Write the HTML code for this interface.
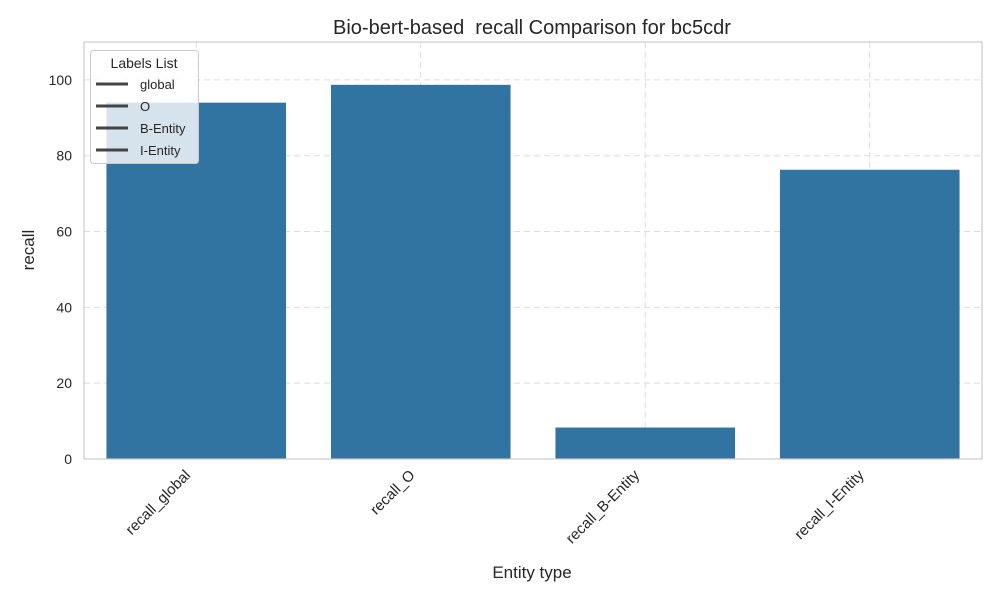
<!DOCTYPE html>
<html><head><meta charset="utf-8"><style>
body{margin:0;background:#fff;font-family:"Liberation Sans",sans-serif;}
</style></head><body>
<svg id="chart" width="1000" height="600" xmlns="http://www.w3.org/2000/svg" font-family="Liberation Sans, sans-serif">
<text x="532" y="34" font-size="20" text-anchor="middle" fill="#262626">Bio-bert-based&#160; recall Comparison for bc5cdr</text>
<g id="grid"></g>
<g id="bars"></g>
<rect x="84" y="42" width="898" height="417" fill="none" stroke="#cccccc" stroke-width="1.2"/>
<g id="ticks"></g>
<text x="34" y="250" font-size="17" text-anchor="middle" fill="#262626" transform="rotate(-90 34 250)">recall</text>
<text x="532" y="578" font-size="17" text-anchor="middle" fill="#262626">Entity type</text>
<g>
<rect x="90.5" y="50.5" width="108" height="113" rx="3" fill="#ffffff" fill-opacity="0.8" stroke="#cccccc"/>
<text x="144" y="68" font-size="14" text-anchor="middle" fill="#262626">Labels List</text>
<g id="legend-items"></g>
</g>
</svg>
<script>
const categories=["recall_global","recall_O","recall_B-Entity","recall_I-Entity"];
const values=[94.0,98.7,8.3,76.3];
const yTicks=[0,20,40,60,80,100];
const legendLabels=["global","O","B-Entity","I-Entity"];
const NS="http://www.w3.org/2000/svg";
const L=84,R=982,T=42,B=459,YMAX=110;
const y=v=>B-(v/YMAX)*(B-T);
const band=(R-L)/categories.length;
const x=i=>L+band*(i+0.5);
function mk(tag,attrs,parent,txt){const e=document.createElementNS(NS,tag);for(const k in attrs)e.setAttribute(k,attrs[k]);if(txt!==undefined)e.textContent=txt;document.getElementById(parent).appendChild(e);return e;}
yTicks.forEach(t=>{
 const g=mk('line',{x1:L,x2:R,y1:y(t),y2:y(t),stroke:'#dddddd','stroke-dasharray':'6,4'},'grid');
 
 
 const l=mk('text',{x:L-12,y:y(t)+5,'font-size':14,'text-anchor':'end',fill:'#262626'},'ticks',t);
 
 
});
categories.forEach((c,i)=>{
 const g=mk('line',{x1:x(i),x2:x(i),y1:T,y2:B,stroke:'#dddddd','stroke-dasharray':'6,4'},'grid');
 
 
 const w=band*0.8;
 const b=mk('rect',{x:x(i)-w/2,y:y(values[i]),width:w,height:B-y(values[i]),fill:'#3274a1'},'bars');
 
 
 const tx=x(i)-5,ty=B+17;
 const l=mk('text',{x:tx,y:ty,'font-size':15,'text-anchor':'end',fill:'#262626',transform:`rotate(-45 ${tx} ${ty})`},'ticks',c);
 
 
});
legendLabels.forEach((s,i)=>{
 const yy=85+i*22;
 const ln=mk('line',{x1:96,x2:128,y1:yy-1,y2:yy-1,stroke:'#444444','stroke-width':3},'legend-items');
 
 
 const t=mk('text',{x:140,y:yy+4,'font-size':13,fill:'#262626'},'legend-items',s);
 
 
});
</script>
</body></html>
